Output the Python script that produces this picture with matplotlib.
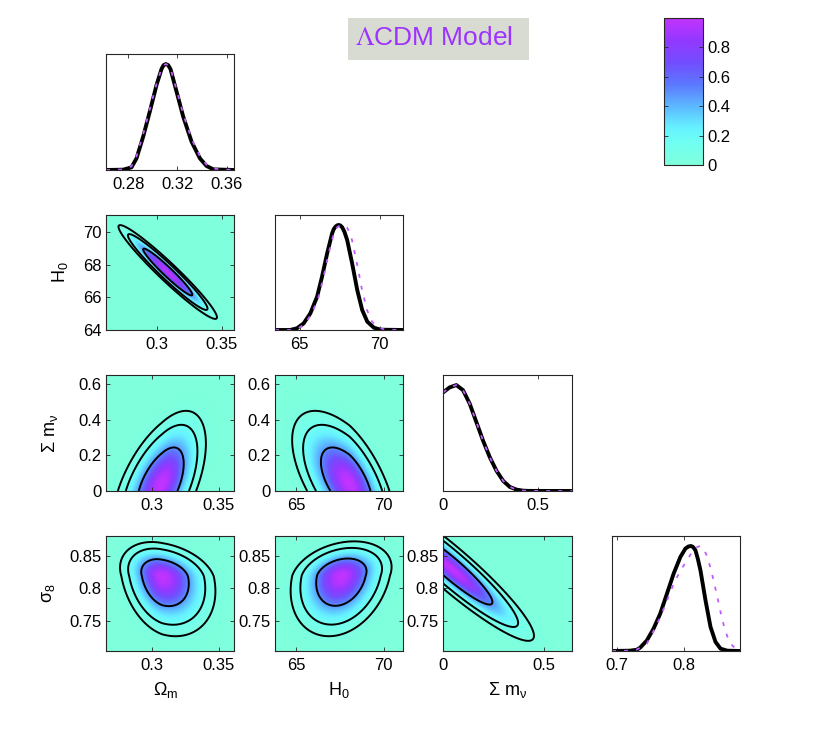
import numpy as np
import matplotlib
matplotlib.use("Agg")
import matplotlib.pyplot as plt
from matplotlib.colors import LinearSegmentedColormap, Normalize
from matplotlib.cm import ScalarMappable
from matplotlib.patches import Rectangle

plt.rcParams['font.family'] = ['Liberation Sans', 'DejaVu Sans']

# ---------------- data ----------------
TITLE = r'$\Lambda$CDM Model'
LABEL_OM = 'Ω$_\\mathregular{m}$'
LABEL_H0 = 'H$_\\mathregular{0}$'
LABEL_MNU = 'Σ m$_\\mathregular{ν}$'
LABEL_S8 = 'σ$_\\mathregular{8}$'

# 1D marginal posteriors (normalised to peak 1)
OM_X = [0.262, 0.276, 0.2827, 0.2868, 0.2922, 0.2976, 0.3031, 0.3071, 0.3088, 0.3106,
        0.3125, 0.3144, 0.3193, 0.3247, 0.3315, 0.3383, 0.3437, 0.3492, 0.366]
OM_SOLID = [0, 0.003, 0.025, 0.11, 0.315, 0.552, 0.804, 0.953, 0.99, 1.0,
            0.99, 0.953, 0.741, 0.505, 0.268, 0.110, 0.038, 0.006, 0]
OM_DASH = [0, 0.005, 0.035, 0.13, 0.34, 0.575, 0.815, 0.955, 0.99, 1.0,
           0.99, 0.958, 0.76, 0.53, 0.295, 0.13, 0.05, 0.012, 0]

H0_X = [63.46, 64.4, 64.83, 65.25, 65.67, 66.09, 66.4, 66.72, 67.03, 67.13, 67.24, 67.35,
        67.45, 67.55, 67.66, 67.8, 67.97, 68.28, 68.6, 68.91, 69.23, 69.64, 70.06, 71.46]
H0_SOLID = [0, 0, 0.016, 0.063, 0.159, 0.317, 0.508, 0.73, 0.92, 0.96, 0.984, 0.997,
            1.0, 0.995, 0.978, 0.935, 0.857, 0.635, 0.381, 0.19, 0.079, 0.022, 0.003, 0]
H0_DASH_X = [63.46, 64.5, 64.93, 65.35, 65.77, 66.19, 66.5, 66.82, 67.13, 67.25, 67.4, 67.55,
             67.7, 67.82, 67.95, 68.1, 68.27, 68.58, 68.9, 69.21, 69.53, 69.94, 70.36, 71.46]
H0_DASH = H0_SOLID

MNU_X = [0, 0.035, 0.07, 0.105, 0.14, 0.175, 0.21, 0.246, 0.281, 0.316, 0.351,
         0.386, 0.421, 0.45, 0.677]
MNU_SOLID = [0.93, 0.978, 1.0, 0.952, 0.825, 0.651, 0.476, 0.317, 0.19, 0.095, 0.038,
             0.013, 0.003, 0.001, 0]
MNU_DASH = MNU_SOLID

S8_X = [0.693, 0.72, 0.73, 0.735, 0.745, 0.755, 0.765, 0.775, 0.785, 0.795, 0.8025,
        0.807, 0.811, 0.814, 0.8175, 0.821, 0.825, 0.8325, 0.84, 0.8475, 0.855, 0.865, 0.884]
S8_SOLID = [0, 0.003, 0.012, 0.032, 0.10, 0.213, 0.356, 0.546, 0.737, 0.895, 0.975,
            0.995, 1.0, 0.99, 0.959, 0.88, 0.768, 0.483, 0.229, 0.086, 0.022, 0.003, 0]
S8_DASH_X = [0.693, 0.72, 0.73, 0.745, 0.755, 0.765, 0.775, 0.785, 0.795, 0.805, 0.8125,
             0.82, 0.825, 0.83, 0.835, 0.84, 0.845, 0.85, 0.855, 0.86, 0.865, 0.87,
             0.8775, 0.884]
S8_DASH = [0, 0.003, 0.013, 0.07, 0.19, 0.32, 0.48, 0.64, 0.765, 0.864, 0.943,
           0.99, 1.0, 0.97, 0.9, 0.79, 0.66, 0.52, 0.37, 0.24, 0.14, 0.07, 0.02, 0.005]

# 2D posteriors: (mean_x, sig_x_left, sig_x_right, mean_y, sig_y_low, sig_y_high, rho)
G_OM_H0 = [0.3085, 0.01563, 0.01563, 67.56, 1.1875, 1.1875, -0.965]
G_OM_MNU = [0.307, 0.01538, 0.01375, 0.04, 0.1688, 0.1688, 0.55]
G_H0_MNU = [68.05, 1.35, 1.10, 0.04, 0.1688, 0.1688, -0.6]
G_OM_S8 = [0.3075, 0.01313, 0.0165, 0.819, 0.0384, 0.0219, -0.25]
G_H0_S8 = [67.6, 1.2, 1.175, 0.82, 0.0388, 0.0219, 0.25]
G_MNU_S8 = [0.04, 0.1688, 0.1688, 0.831, 0.0463, 0.0463, -0.93]
CONTOUR_LEVELS = [0.053, 0.1465, 0.482]   # outer, middle, inner density levels

# axis limits and ticks
OM_LIM_1D = (0.262, 0.366); OM_TICKS_1D = [0.28, 0.32, 0.36]; OM_TL_1D = ['0.28', '0.32', '0.36']
OM_LIM_R2 = (0.261, 0.3595)
OM_LIM_2D = (0.2651, 0.3615); OM_TICKS_2D = [0.3, 0.35]; OM_TL_2D = ['0.3', '0.35']
H0_LIM_1D = (63.46, 71.46); H0_LIM_2D = (63.8, 71.1); H0_TICKS_X = [65, 70]; H0_TL_X = ['65', '70']
H0_LIM_Y = (64.0, 71.06); H0_TICKS_Y = [64, 66, 68, 70]; H0_TL_Y = ['64', '66', '68', '70']
MNU_LIM_1D = (0, 0.677); MNU_LIM_X = (0, 0.637); MNU_TICKS_X = [0, 0.5]; MNU_TL_X = ['0', '0.5']
MNU_LIM_Y = (0, 0.65); MNU_TICKS_Y = [0, 0.2, 0.4, 0.6]; MNU_TL_Y = ['0', '0.2', '0.4', '0.6']
S8_LIM_1D = (0.693, 0.884); S8_TICKS_1D = [0.7, 0.8]; S8_TL_1D = ['0.7', '0.8']
S8_LIM_Y = (0.703, 0.8814); S8_TICKS_Y = [0.75, 0.8, 0.85]; S8_TL_Y = ['0.75', '0.8', '0.85']
CB_TICKS = [0, 0.2, 0.4, 0.6, 0.8]; CB_TL = ['0', '0.2', '0.4', '0.6', '0.8']

# ---------------- style ----------------
CMAP = LinearSegmentedColormap.from_list('cdm', [
    (0.0, (0.50, 1.00, 0.86)),
    (0.15, (0.44, 1.00, 0.95)),
    (0.25, (0.40, 0.95, 1.00)),
    (0.40, (0.36, 0.72, 1.00)),
    (0.55, (0.36, 0.47, 1.00)),
    (0.70, (0.45, 0.30, 1.00)),
    (0.85, (0.58, 0.22, 1.00)),
    (1.0, (0.76, 0.20, 1.00)),
])
DASH_COLOR = '#c25cff'
TICK_FS = 12
LABEL_FS = 13

W, H = 817, 733
fig = plt.figure(figsize=(W / 100, H / 100), dpi=100)

COLS = [(106, 234), (275, 403), (443, 572), (612, 740)]
ROWS = [(54, 170), (215, 330), (375, 491), (536, 651)]


def make_ax(r, c):
    x0, x1 = COLS[c]
    y0, y1 = ROWS[r]
    ax = fig.add_axes([x0 / W, 1 - y1 / H, (x1 - x0) / W, (y1 - y0) / H])
    for s in ax.spines.values():
        s.set_color('#262626')
        s.set_linewidth(0.8)
    ax.tick_params(direction='in', length=3, width=0.6, top=True, right=True,
                   labelsize=TICK_FS, colors='#262626', labelcolor='black')
    ax.tick_params(axis='x', pad=5)
    ax.tick_params(axis='y', pad=3)
    return ax


def set_x(ax, lim, ticks, labels):
    ax.set_xlim(lim)
    ax.set_xticks(ticks)
    ax.set_xticklabels(labels)


def set_y(ax, lim, ticks, labels):
    ax.set_ylim(lim)
    ax.set_yticks(ticks)
    ax.set_yticklabels(labels)


def one_d(r, x, y, xd, yd, lim, ticks, labels):
    ax = make_ax(r, r)
    ax.plot(x, y, color='black', lw=2.8, solid_joinstyle='round', solid_capstyle='round')
    ax.plot(xd, yd, color=DASH_COLOR, lw=1.3, dashes=(2.2, 4.5))
    set_x(ax, lim, ticks, labels)
    ax.set_ylim(0, 1.095)
    ax.set_yticks([])
    return ax


def two_d(r, c, g, xlim, ylim):
    ax = make_ax(r, c)
    mx, sxl, sxr, my, syl, syh, rho = g
    xs = np.linspace(xlim[0], xlim[1], 400)
    ys = np.linspace(ylim[0], ylim[1], 400)
    X, Y = np.meshgrid(xs, ys)
    u = np.where(X < mx, (X - mx) / sxl, (X - mx) / sxr)
    v = np.where(Y < my, (Y - my) / syl, (Y - my) / syh)
    q = (u ** 2 - 2 * rho * u * v + v ** 2) / (1 - rho ** 2)
    d = np.exp(-0.5 * q)
    d = d / d.max()
    ax.imshow(d, extent=[xlim[0], xlim[1], ylim[0], ylim[1]], origin='lower',
              aspect='auto', cmap=CMAP, vmin=0, vmax=1, interpolation='bilinear')
    ax.contour(X, Y, d, levels=CONTOUR_LEVELS, colors='black', linewidths=1.4)
    return ax


# diagonal
one_d(0, OM_X, OM_SOLID, OM_X, OM_DASH, OM_LIM_1D, OM_TICKS_1D, OM_TL_1D)
one_d(1, H0_X, H0_SOLID, H0_DASH_X, H0_DASH, H0_LIM_1D, H0_TICKS_X, H0_TL_X)
one_d(2, MNU_X, MNU_SOLID, MNU_X, MNU_DASH, MNU_LIM_1D, MNU_TICKS_X, MNU_TL_X)
one_d(3, S8_X, S8_SOLID, S8_DASH_X, S8_DASH, S8_LIM_1D, S8_TICKS_1D, S8_TL_1D)

# row 2
ax = two_d(1, 0, G_OM_H0, OM_LIM_R2, H0_LIM_Y)
set_x(ax, OM_LIM_R2, OM_TICKS_2D, OM_TL_2D)
set_y(ax, H0_LIM_Y, H0_TICKS_Y, H0_TL_Y)
ax.set_ylabel(LABEL_H0, fontsize=LABEL_FS)
ax.yaxis.set_label_coords(-0.28, 0.5)

# row 3
ax = two_d(2, 0, G_OM_MNU, OM_LIM_2D, MNU_LIM_Y)
set_x(ax, OM_LIM_2D, OM_TICKS_2D, OM_TL_2D)
set_y(ax, MNU_LIM_Y, MNU_TICKS_Y, MNU_TL_Y)
ax.set_ylabel(LABEL_MNU, fontsize=LABEL_FS)
ax.yaxis.set_label_coords(-0.36, 0.5)

ax = two_d(2, 1, G_H0_MNU, H0_LIM_2D, MNU_LIM_Y)
set_x(ax, H0_LIM_2D, H0_TICKS_X, H0_TL_X)
set_y(ax, MNU_LIM_Y, MNU_TICKS_Y, MNU_TL_Y)

# row 4
ax = two_d(3, 0, G_OM_S8, OM_LIM_2D, S8_LIM_Y)
set_x(ax, OM_LIM_2D, OM_TICKS_2D, OM_TL_2D)
set_y(ax, S8_LIM_Y, S8_TICKS_Y, S8_TL_Y)
ax.set_ylabel(LABEL_S8, fontsize=LABEL_FS)
ax.yaxis.set_label_coords(-0.38, 0.5)
ax.set_xlabel(LABEL_OM, fontsize=LABEL_FS)
ax.xaxis.set_label_coords(0.47, -0.25)

ax = two_d(3, 1, G_H0_S8, H0_LIM_2D, S8_LIM_Y)
set_x(ax, H0_LIM_2D, H0_TICKS_X, H0_TL_X)
set_y(ax, S8_LIM_Y, S8_TICKS_Y, S8_TL_Y)
ax.set_xlabel(LABEL_H0, fontsize=LABEL_FS)
ax.xaxis.set_label_coords(0.5, -0.25)

ax = two_d(3, 2, G_MNU_S8, MNU_LIM_X, S8_LIM_Y)
set_x(ax, MNU_LIM_X, MNU_TICKS_X, MNU_TL_X)
set_y(ax, S8_LIM_Y, S8_TICKS_Y, S8_TL_Y)
ax.set_xlabel(LABEL_MNU, fontsize=LABEL_FS)
ax.xaxis.set_label_coords(0.5, -0.25)

# colorbar
cx0, cx1, cy0, cy1 = 664, 703, 18, 165
cax = fig.add_axes([cx0 / W, 1 - cy1 / H, (cx1 - cx0) / W, (cy1 - cy0) / H])
sm = ScalarMappable(norm=Normalize(0, 1), cmap=CMAP)
cb = fig.colorbar(sm, cax=cax, ticks=CB_TICKS)
cb.set_ticklabels(CB_TL)
cb.outline.set_edgecolor('#262626')
cb.outline.set_linewidth(0.8)
cax.tick_params(direction='in', length=3, width=0.6, left=True, right=True,
                labelsize=TICK_FS, pad=3, colors='#262626', labelcolor='black')

# title box
bx0, bx1, by0, by1 = 348, 529, 18, 60
fig.patches.append(Rectangle((bx0 / W, 1 - by1 / H), (bx1 - bx0) / W, (by1 - by0) / H,
                             transform=fig.transFigure, facecolor='#d8dbd1',
                             edgecolor='none', zorder=0))
fig.text((bx0 + bx1) / 2 / W - 4 / W, 1 - 38 / H, TITLE, ha='center', va='center',
         fontsize=19, color='#9d33ff', math_fontfamily='stix')

fig.savefig('out.png', dpi=100)
